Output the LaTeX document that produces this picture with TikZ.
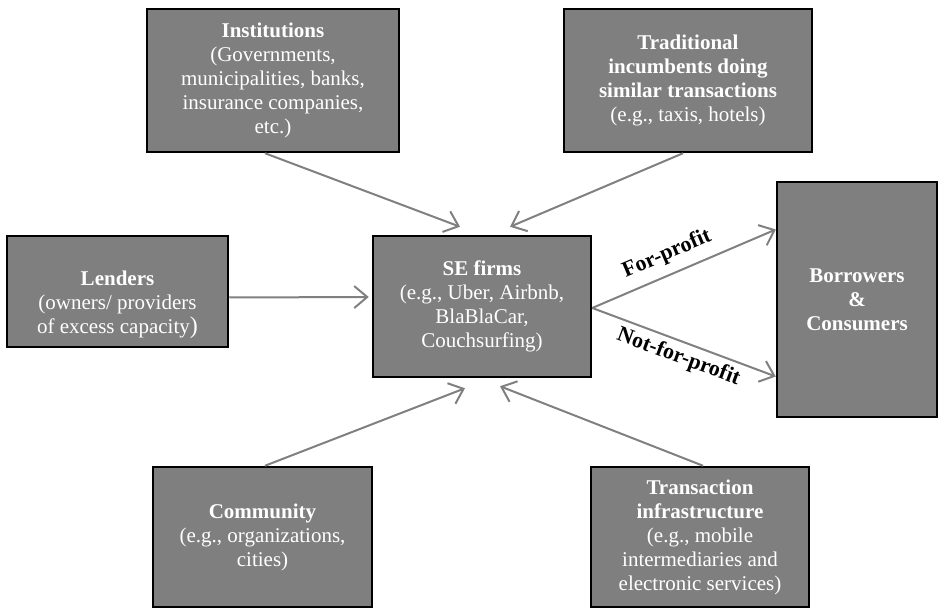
\documentclass[tikz,border=0pt]{standalone}
\usepackage{fontspec}
\setmainfont{Liberation Serif}
\usepackage{xcolor}
\usetikzlibrary{arrows.meta}
\definecolor{boxgray}{HTML}{7F7F7F}
\definecolor{flowgray}{HTML}{808080}
\begin{document}
\begin{tikzpicture}[x=1pt,y=-1pt]
	\tikzstyle{every node}+=[inner sep=0pt]
	\tikzstyle{actor}=[draw=black,line width=2.5pt,fill=boxgray,text=white,align=center,font=\fontsize{21}{24}\selectfont]
	\tikzstyle{flow}=[draw=flowgray,line width=2pt,-{Straight Barb[length=13pt,width=22pt]}]
	\tikzstyle{tag}=[sloped,text=black,font=\fontsize{22}{24}\selectfont\bfseries]
	\useasboundingbox (0,0) rectangle (940,612);
	\node [actor,minimum width=252pt,minimum height=143pt] (inst) at (273,80.5) {\textbf{Institutions}\\(Governments,\\municipalities, banks,\\insurance companies,\\etc.)};
	\node [actor,minimum width=248pt,minimum height=143pt] (trad) at (688,80.5) {\textbf{Traditional}\\\textbf{incumbents doing}\\\textbf{similar transactions}\\(e.g., taxis, hotels)};
	\node [actor,minimum width=221pt,minimum height=111pt] (lend) at (117.5,291.5) {};
	\node [text=white,align=center,font=\fontsize{21}{24}\selectfont] (lendtext) at ([yshift=-13pt]lend.center) {\textbf{Lenders}\\(owners/ providers\\of excess capacity{\fontsize{24}{24}\selectfont)}};
	\node [actor,minimum width=218pt,minimum height=141pt] (se) at (482,306.5) {\textbf{SE firms}\\(e.g., Uber, Airbnb,\\BlaBlaCar,\\Couchsurfing)};
	\node [actor,minimum width=160pt,minimum height=235pt] (bor) at (857,299.5) {\textbf{Borrowers}\\\textbf{\&}\\\textbf{Consumers}};
	\node [actor,minimum width=219pt,minimum height=140pt] (comm) at (262.5,537) {\textbf{Community}\\(e.g., organizations,\\cities)};
	\node [actor,minimum width=218pt,minimum height=140pt] (trans) at (700,537) {\textbf{Transaction}\\\textbf{infrastructure}\\(e.g., mobile\\intermediaries and\\electronic services)};
	\draw [flow] ([xshift=-8pt]inst.south) -- ([xshift=-22pt,yshift=8pt]se.north);
	\draw [flow] ([xshift=-5pt]trad.south) -- ([xshift=28pt,yshift=8pt]se.north);
	\draw [flow] ([yshift=-6pt]lend.east) -- ([xshift=-3pt,yshift=9.5pt]se.west);
	\draw [flow] ([xshift=2.5pt]comm.north) -- ([xshift=-17pt,yshift=-10pt]se.south);
	\draw [flow] ([xshift=3pt]trans.north) -- ([xshift=18pt,yshift=-8pt]se.south);
	\draw [flow] ([yshift=-1.5pt]se.east) -- ([yshift=70pt]bor.west) node [tag,above=9pt,pos=0.45] {For-profit};
	\draw [flow] ([yshift=-1.5pt]se.east) -- ([yshift=-77pt]bor.west) node [tag,below=5pt,pos=0.5] {Not-for-profit};
\end{tikzpicture}
\end{document}
